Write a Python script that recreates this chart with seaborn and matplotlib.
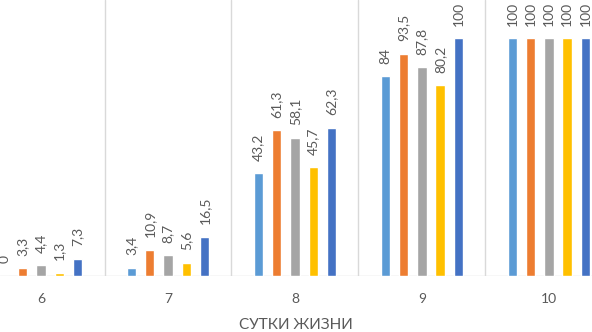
import pandas as pd
import matplotlib
matplotlib.use("Agg")
import matplotlib.pyplot as plt
import seaborn as sns

# data
days = ["6", "7", "8", "9", "10"]
series = ["Серия 1", "Серия 2", "Серия 3", "Серия 4", "Серия 5"]
s1 = [0, 3.4, 43.2, 84, 100]
s2 = [3.3, 10.9, 61.3, 93.5, 100]
s3 = [4.4, 8.7, 58.1, 87.8, 100]
s4 = [1.3, 5.6, 45.7, 80.2, 100]
s5 = [7.3, 16.5, 62.3, 100, 100]
colors = ["#5B9BD5", "#ED7D31", "#A5A5A5", "#FFC000", "#4472C4"]

rows = []
for name, vals in zip(series, [s1, s2, s3, s4, s5]):
    for d, v in zip(days, vals):
        rows.append({"day": d, "value": v, "series": name})
df = pd.DataFrame(rows)

sns.set_style("white")
plt.rcParams["font.family"] = ["Lato", "DejaVu Sans"]
text_color = "#595959"
grid_color = "#D9D9D9"

fig = plt.figure(figsize=(5.92, 3.32), dpi=100)
ax = fig.add_axes([0, 0.169, 1, 0.831])

sns.barplot(data=df, x="day", y="value", hue="series", order=days,
            hue_order=series, palette=colors, width=0.72, gap=0.48,
            legend=False, ax=ax, errorbar=None, saturation=1)

# value labels, rotated like the original
for cont, vals in zip(ax.containers, [s1, s2, s3, s4, s5]):
    labels = [f"{v:g}".replace(".", ",") for v in vals]
    ax.bar_label(cont, labels=labels, padding=9, rotation=90,
                 fontsize=10, color=text_color)

# category separators
ax.set_xticks([0.5, 1.5, 2.5, 3.5], minor=True)
ax.grid(False)
ax.grid(which="minor", axis="x", color=grid_color, linewidth=1)
ax.axhline(0, color=grid_color, linewidth=1, zorder=0.5)

ax.set_xlim(-0.323, 4.339)
ax.set_ylim(0, 116)
ax.set_yticks([])
ax.set_ylabel("")
for sp in ax.spines.values():
    sp.set_visible(False)
ax.tick_params(axis="x", which="both", length=0, pad=12,
               labelsize=10, labelcolor=text_color)
ax.set_xlabel("СУТКИ ЖИЗНИ", fontsize=11, color=text_color, labelpad=10)

fig.savefig("out.png", dpi=100)
